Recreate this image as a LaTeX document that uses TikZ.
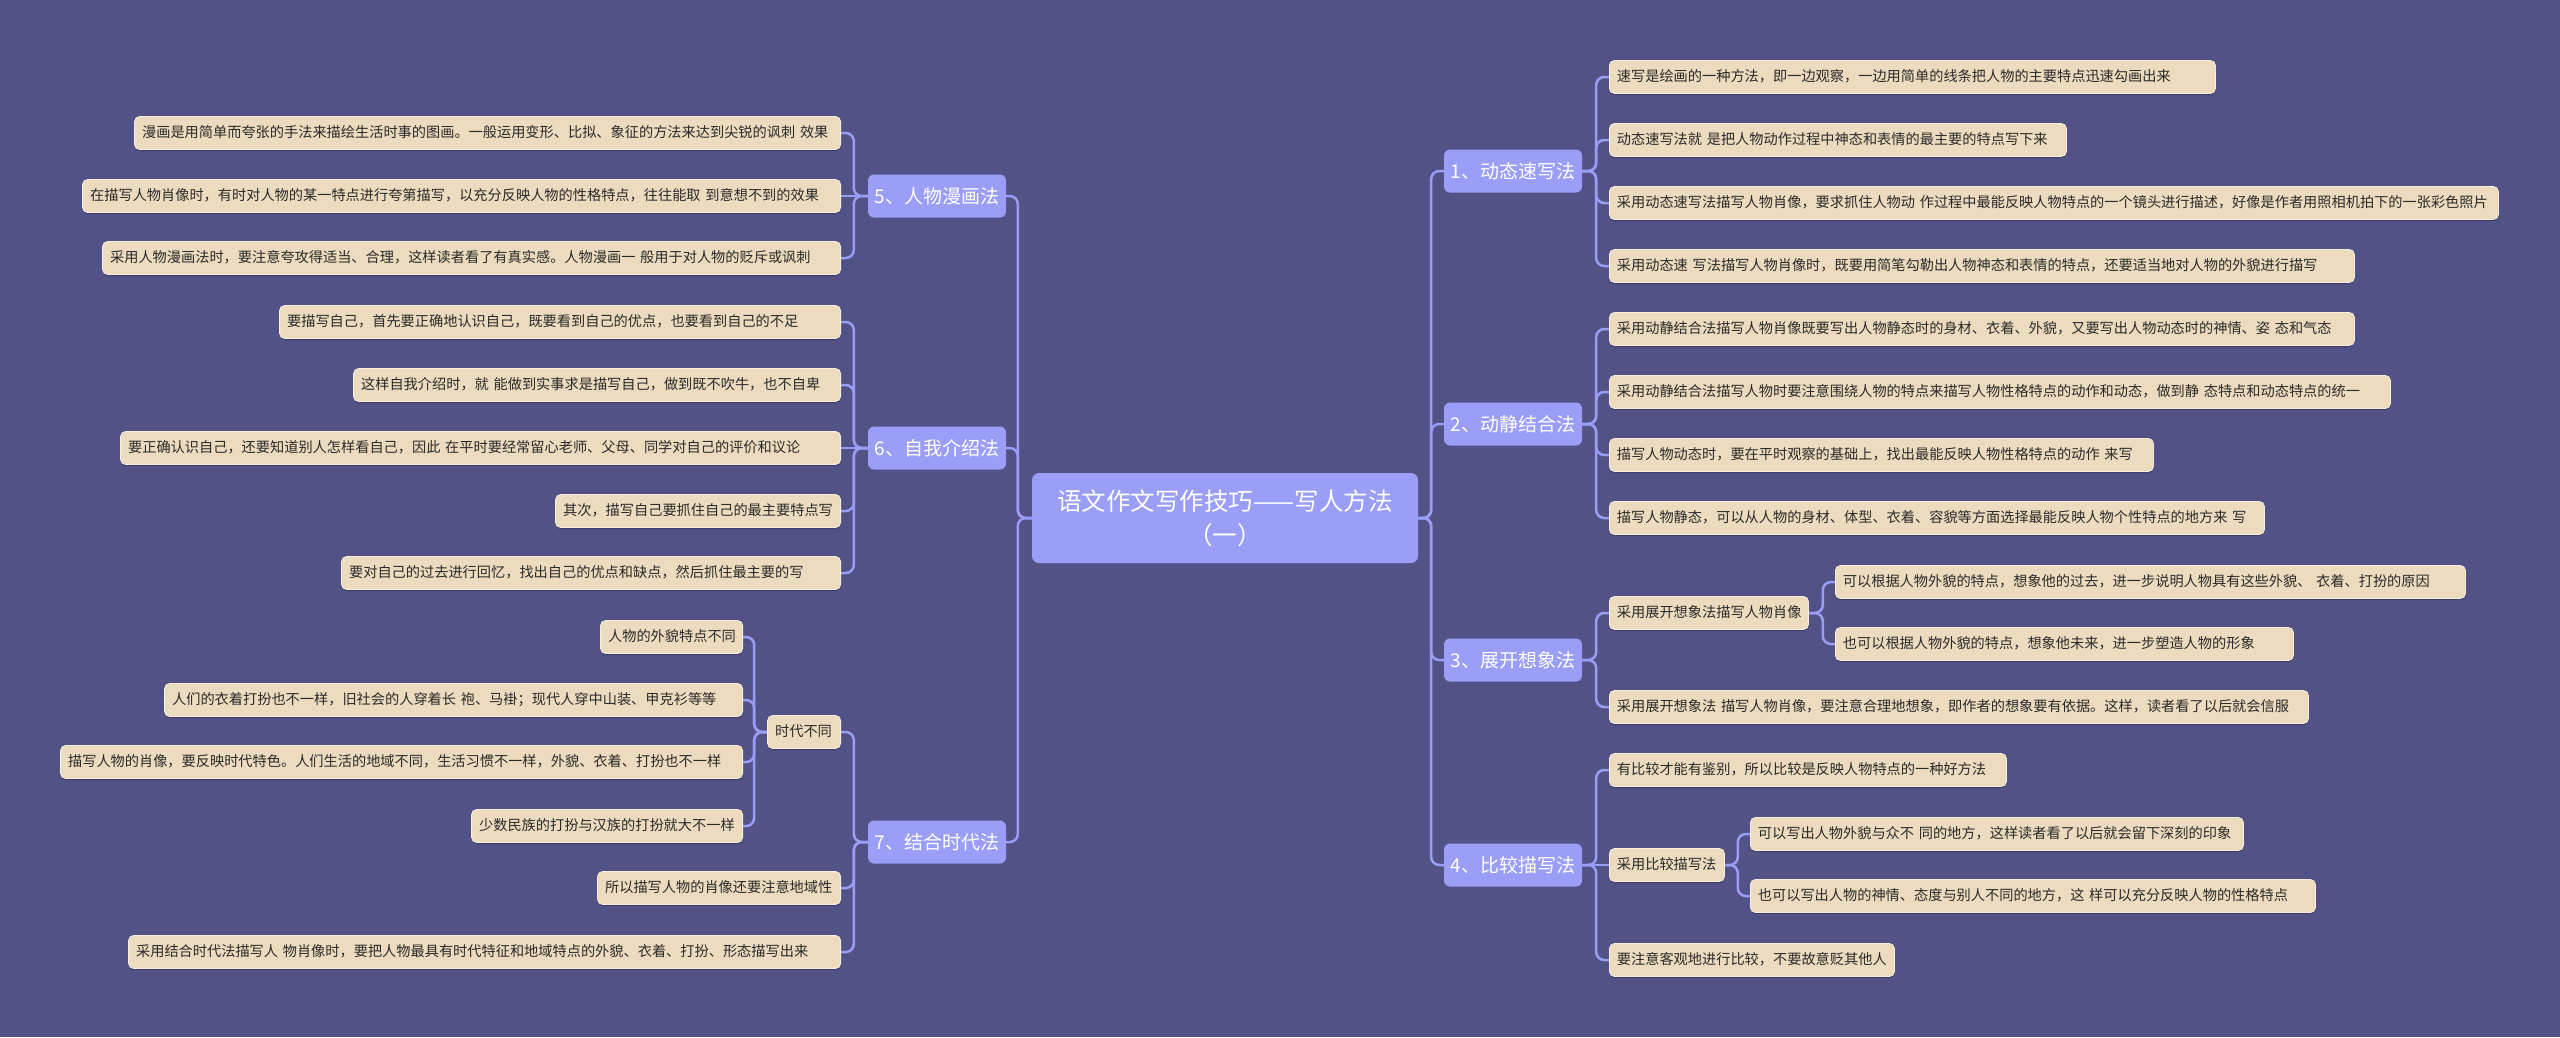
\documentclass[tikz,border=0pt]{standalone}
\usepackage{fontspec}
\newfontfamily\cjk{Noto Sans CJK SC}
\usetikzlibrary{shadows}
\definecolor{bg}{HTML}{525287}
\definecolor{brfill}{HTML}{9B9EF7}
\definecolor{leaffill}{HTML}{ECDBBE}
\definecolor{leafedge}{HTML}{F7EEDD}
\definecolor{lineclr}{HTML}{9A9DF5}
\definecolor{shadowclr}{HTML}{3E3E68}
\definecolor{txt}{HTML}{2A2A2A}
\pgfdeclarelayer{back}
\pgfdeclarelayer{links}
\pgfsetlayers{back,links,main}
\tikzset{
 leaf/.style={draw=leafedge, line width=0.8pt, fill=leaffill, rounded corners=5pt,
   minimum height=33pt, inner xsep=7.5pt, inner ysep=0pt, text height=11.5pt, text depth=3pt,
   align=left, font=\cjk\fontsize{14.2}{17}\selectfont, text=txt,
   general shadow={fill=shadowclr, shadow yshift=-1.6pt}},
 branch/.style={fill=brfill, rounded corners=6pt, minimum width=138pt, minimum height=43pt,
   inner sep=0pt, text=white, font=\cjk\fontsize{19}{22}\selectfont},
 rootbox/.style={fill=brfill, rounded corners=7pt, minimum width=386pt, minimum height=90pt,
   inner sep=0pt, text=white, align=center, font=\cjk\fontsize{24.5}{34}\selectfont},
 conn/.style={draw=lineclr, line width=2.5pt, rounded corners=8pt},
}
\newdimen\lfw
\newcommand\lfR[5]{\lfw=#4pt \advance\lfw by -15pt
  \node[leaf, anchor=west, text width=\the\lfw] (#1) at (#2,#3) {\mbox{#5}};}
\newcommand\lfL[5]{\lfw=#4pt \advance\lfw by -15pt
  \node[leaf, anchor=east, text width=\the\lfw] (#1) at (#2,#3) {\mbox{#5}};}
\newcommand\connR[3]{\draw[conn] (#1.east) -- ++(#3,0) |- (#2.west);}
\newcommand\connL[3]{\draw[conn] (#1.west) -- ++(-#3,0) |- (#2.east);}
\newcommand\connRS[2]{\draw[conn] (#1.east) -- (#2.west);}
\newcommand\connLS[2]{\draw[conn] (#1.west) -- (#2.east);}
\begin{document}
\begin{tikzpicture}[x=1pt,y=-1pt]
\begin{pgfonlayer}{back}
\fill[bg] (0,0) rectangle (2560,1037);
\end{pgfonlayer}
\useasboundingbox (0,0) rectangle (2560,1037);

% root
\node[rootbox] (root) at (1225,518) {语文作文写作技巧——写人方法\\（一）};

% right branches
\node[branch] (b1) at (1513,171) {1、动态速写法};
\node[branch] (b2) at (1513,424) {2、动静结合法};
\node[branch] (b3) at (1513,660) {3、展开想象法};
\node[branch] (b4) at (1513,865) {4、比较描写法};
% left branches
\node[branch] (b5) at (937,196) {5、人物漫画法};
\node[branch] (b6) at (937,448) {6、自我介绍法};
\node[branch] (b7) at (937,842) {7、结合时代法};

% branch 1
\lfR{l1a}{1609}{77}{606}{速写是绘画的一种方法，即一边观察，一边用简单的线条把人物的主要特点迅速勾画出来}
\lfR{l1b}{1609}{140}{457}{动态速写法就 是把人物动作过程中神态和表情的最主要的特点写下来}
\lfR{l1c}{1609}{203}{889}{采用动态速写法描写人物肖像，要求抓住人物动 作过程中最能反映人物特点的一个镜头进行描述，好像是作者用照相机拍下的一张彩色照片}
\lfR{l1d}{1609}{266}{745}{采用动态速 写法描写人物肖像时，既要用简笔勾勒出人物神态和表情的特点，还要适当地对人物的外貌进行描写}
% branch 2
\lfR{l2a}{1609}{329}{745}{采用动静结合法描写人物肖像既要写出人物静态时的身材、衣着、外貌，又要写出人物动态时的神情、姿 态和气态}
\lfR{l2b}{1609}{392}{781}{采用动静结合法描写人物时要注意围绕人物的特点来描写人物性格特点的动作和动态，做到静 态特点和动态特点的统一}
\lfR{l2c}{1609}{455}{544}{描写人物动态时，要在平时观察的基础上，找出最能反映人物性格特点的动作 来写}
\lfR{l2d}{1609}{518}{655}{描写人物静态，可以从人物的身材、体型、衣着、容貌等方面选择最能反映人物个性特点的地方来 写}
% branch 3
\lfR{l3s}{1609}{613}{199}{采用展开想象法描写人物肖像}
\lfR{l3sa}{1835}{582}{630}{可以根据人物外貌的特点，想象他的过去，进一步说明人物具有这些外貌、 衣着、打扮的原因}
\lfR{l3sb}{1835}{644}{458}{也可以根据人物外貌的特点，想象他未来，进一步塑造人物的形象}
\lfR{l3b}{1609}{707}{699}{采用展开想象法 描写人物肖像，要注意合理地想象，即作者的想象要有依据。这样，读者看了以后就会信服}
% branch 4
\lfR{l4a}{1609}{770}{397}{有比较才能有鉴别，所以比较是反映人物特点的一种好方法}
\lfR{l4s}{1609}{865}{115}{采用比较描写法}
\lfR{l4sa}{1750}{834}{493}{可以写出人物外貌与众不 同的地方，这样读者看了以后就会留下深刻的印象}
\lfR{l4sb}{1750}{896}{565}{也可以写出人物的神情、态度与别人不同的地方，这 样可以充分反映人物的性格特点}
\lfR{l4c}{1609}{960}{285}{要注意客观地进行比较，不要故意贬其他人}
% branch 5
\lfL{l5a}{841}{133}{706}{漫画是用简单而夸张的手法来描绘生活时事的图画。一般运用变形、比拟、象征的方法来达到尖锐的讽刺 效果}
\lfL{l5b}{841}{196}{758}{在描写人物肖像时，有时对人物的某一特点进行夸第描写，以充分反映人物的性格特点，往往能取 到意想不到的效果}
\lfL{l5c}{841}{258}{738}{采用人物漫画法时，要注意夸攻得适当、合理，这样读者看了有真实感。人物漫画一 般用于对人物的贬斥或讽刺}
% branch 6
\lfL{l6a}{841}{322}{561}{要描写自己，首先要正确地认识自己，既要看到自己的优点，也要看到自己的不足}
\lfL{l6b}{841}{385}{487}{这样自我介绍时，就 能做到实事求是描写自己，做到既不吹牛，也不自卑}
\lfL{l6c}{841}{448}{720}{要正确认识自己，还要知道别人怎样看自己，因此 在平时要经常留心老师、父母、同学对自己的评价和议论}
\lfL{l6d}{841}{511}{285}{其次，描写自己要抓住自己的最主要特点写}
\lfL{l6e}{841}{573}{499}{要对自己的过去进行回忆，找出自己的优点和缺点，然后抓住最主要的写}
% branch 7
\lfL{l7s}{841}{732}{73}{时代不同}
\lfL{l7sa}{743}{637}{142}{人物的外貌特点不同}
\lfL{l7sb}{743}{700}{578}{人们的衣着打扮也不一样，旧社会的人穿着长 袍、马褂；现代人穿中山装、甲克衫等等}
\lfL{l7sc}{743}{762}{682}{描写人物的肖像，要反映时代特色。人们生活的地域不同，生活习惯不一样，外貌、衣着、打扮也不一样}
\lfL{l7sd}{743}{826}{271}{少数民族的打扮与汉族的打扮就大不一样}
\lfL{l7b}{841}{888}{243}{所以描写人物的肖像还要注意地域性}
\lfL{l7c}{841}{952}{712}{采用结合时代法描写人 物肖像时，要把人物最具有时代特征和地域特点的外貌、衣着、打扮、形态描写出来}

\begin{pgfonlayer}{links}
\connR{root}{b1}{13} \connR{root}{b2}{13} \connR{root}{b3}{13} \connR{root}{b4}{13}
\connL{root}{b5}{14} \connL{root}{b6}{14} \connL{root}{b7}{14}
\connR{b1}{l1a}{14} \connR{b1}{l1b}{14} \connR{b1}{l1c}{14} \connR{b1}{l1d}{14}
\connR{b2}{l2a}{14} \connR{b2}{l2b}{14} \connR{b2}{l2c}{14} \connR{b2}{l2d}{14}
\connR{b3}{l3s}{14} \connR{b3}{l3b}{14}
\connR{l3s}{l3sa}{14} \connR{l3s}{l3sb}{14}
\connR{b4}{l4a}{14} \connRS{b4}{l4s} \connR{b4}{l4c}{14}
\connR{l4s}{l4sa}{13} \connR{l4s}{l4sb}{13}
\connL{b5}{l5a}{14} \connLS{b5}{l5b} \connL{b5}{l5c}{14}
\connL{b6}{l6a}{14} \connL{b6}{l6b}{14} \connLS{b6}{l6c} \connL{b6}{l6d}{14} \connL{b6}{l6e}{14}
\connL{b7}{l7s}{14} \connL{b7}{l7b}{14} \connL{b7}{l7c}{14}
\connL{l7s}{l7sa}{13} \connL{l7s}{l7sb}{13} \connL{l7s}{l7sc}{13} \connL{l7s}{l7sd}{13}
\end{pgfonlayer}
\end{tikzpicture}
\end{document}
